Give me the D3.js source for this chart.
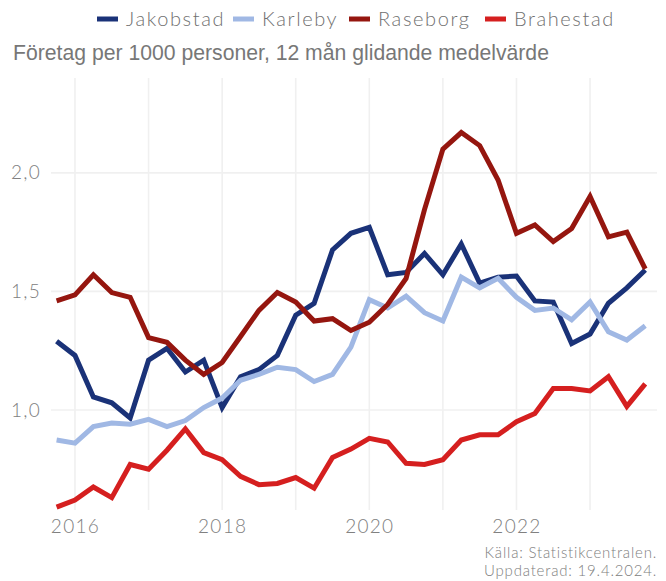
<!DOCTYPE html>
<html>
<head>
<meta charset="utf-8">
<script src="https://cdn.jsdelivr.net/npm/d3@7"></script>
<style>
  body { margin: 0; background: #fff; }
</style>
</head>
<body>
<div id="chart"></div>
<script>
// quarters, 2015 Q4 .. 2023 Q4 (decimal year)
var quarters = [2015.75, 2016, 2016.25, 2016.5, 2016.75, 2017, 2017.25, 2017.5, 2017.75,
    2018, 2018.25, 2018.5, 2018.75, 2019, 2019.25, 2019.5, 2019.75,
    2020, 2020.25, 2020.5, 2020.75, 2021, 2021.25, 2021.5, 2021.75,
    2022, 2022.25, 2022.5, 2022.75, 2023, 2023.25, 2023.5, 2023.75];

var jakobstad = [1.29, 1.23, 1.055, 1.03, 0.966, 1.21, 1.26, 1.16, 1.21, 1.01, 1.14, 1.17, 1.23,
    1.40, 1.45, 1.675, 1.745, 1.77, 1.57, 1.58, 1.66, 1.57, 1.70, 1.535, 1.56, 1.565,
    1.46, 1.455, 1.28, 1.32, 1.45, 1.515, 1.59];
var karleby = [0.873, 0.86, 0.93, 0.945, 0.94, 0.96, 0.93, 0.955, 1.01, 1.05, 1.125, 1.15, 1.18,
    1.17, 1.12, 1.15, 1.265, 1.465, 1.43, 1.48, 1.41, 1.375, 1.56, 1.515, 1.555, 1.475,
    1.42, 1.43, 1.38, 1.455, 1.33, 1.295, 1.355];
var raseborg = [1.46, 1.485, 1.57, 1.495, 1.475, 1.305, 1.285, 1.21, 1.15, 1.20, 1.31, 1.42, 1.495,
    1.455, 1.375, 1.385, 1.335, 1.37, 1.445, 1.555, 1.845, 2.10, 2.17, 2.115, 1.97, 1.745,
    1.78, 1.71, 1.765, 1.90, 1.73, 1.75, 1.595];
var brahestad = [0.59, 0.62, 0.675, 0.63, 0.77, 0.75, 0.83, 0.92, 0.82, 0.79, 0.72, 0.685, 0.69,
    0.715, 0.67, 0.80, 0.835, 0.88, 0.865, 0.775, 0.77, 0.79, 0.873, 0.895, 0.895, 0.95,
    0.985, 1.09, 1.09, 1.08, 1.14, 1.015, 1.11];

var seriesNames = ["Jakobstad", "Karleby", "Raseborg", "Brahestad"];
var seriesColors = ["#1a3278", "#a0b8e4", "#95160f", "#d51f1f"];
var xTicks = [2016, 2018, 2020, 2022];
var yTicks = [1.0, 1.5, 2.0];

var width = 666, height = 581;
var plot = {left: 51, right: 657, top: 78, bottom: 510};

var svg = d3.select("#chart")
    .append("svg")
    .attr("width", width)
    .attr("height", height);

var x = d3.scaleLinear()
    .domain([2015.674, 2023.91])
    .range([plot.left, plot.right]);

var y = d3.scaleLinear()
    .domain([0.578, 2.40])
    .range([plot.bottom, plot.top]);

// grid, one line per year and per 0.5
var gridX = d3.range(2016, 2024);
svg.append("g")
    .selectAll("line")
    .data(gridX)
    .enter().append("line")
    .attr("x1", function (d) { return x(d); })
    .attr("x2", function (d) { return x(d); })
    .attr("y1", plot.top)
    .attr("y2", plot.bottom)
    .style("stroke", "#f0f0f0")
    .style("stroke-width", 1.6);

svg.append("g")
    .selectAll("line")
    .data(yTicks)
    .enter().append("line")
    .attr("x1", plot.left)
    .attr("x2", plot.right)
    .attr("y1", function (d) { return y(d); })
    .attr("y2", function (d) { return y(d); })
    .style("stroke", "#f0f0f0")
    .style("stroke-width", 1.6);

// axes (labels only)
var xAxis = svg.append("g")
    .attr("transform", "translate(0," + plot.bottom + ")")
    .call(d3.axisBottom(x).tickValues(xTicks).tickSize(0).tickPadding(10)
        .tickFormat(d3.format("d")));
xAxis.select(".domain").remove();
xAxis.selectAll("text")
    .style("font-family", "Lato")
    .style("font-weight", 300)
    .style("letter-spacing", "1.3px")
    .style("font-size", "19px")
    .style("fill", "#808080");

var yAxis = svg.append("g")
    .attr("transform", "translate(" + (plot.left - 10) + ",0)")
    .call(d3.axisLeft(y).tickValues(yTicks).tickSize(0).tickPadding(0)
        .tickFormat(function (d) { return d3.format(".1f")(d).replace(".", ","); }));
yAxis.select(".domain").remove();
yAxis.selectAll("text")
    .style("font-family", "Lato")
    .style("font-weight", 300)
    .style("letter-spacing", "1.3px")
    .style("font-size", "19px")
    .style("fill", "#808080");

// lines
var allSeries = [jakobstad, karleby, raseborg, brahestad];
var line = d3.line()
    .x(function (d, i) { return x(quarters[i]); })
    .y(function (d) { return y(d); });

svg.append("g")
    .selectAll("path")
    .data(allSeries)
    .enter().append("path")
    .attr("d", line)
    .style("fill", "none")
    .style("stroke", function (d, i) { return seriesColors[i]; })
    .style("stroke-width", 5)
    .style("stroke-linejoin", "miter")
    .style("stroke-linecap", "butt");

// legend
var legendX = [97, 233, 349, 485];
var legend = svg.append("g")
    .selectAll("g")
    .data(seriesNames)
    .enter().append("g")
    .attr("transform", function (d, i) { return "translate(" + legendX[i] + ",19)"; });
legend.append("line")
    .attr("x1", 0)
    .attr("x2", 21)
    .style("stroke", function (d, i) { return seriesColors[i]; })
    .style("stroke-width", 5);
legend.append("text")
    .attr("x", 29)
    .attr("y", 7)
    .text(function (d) { return d; })
    .style("font-family", "Lato")
    .style("font-weight", 300)
    .style("letter-spacing", "1.6px")
    .style("font-size", "20px")
    .style("fill", "#707070");

// subtitle
svg.append("text")
    .attr("x", 13)
    .attr("y", 60)
    .text("Företag per 1000 personer, 12 mån glidande medelvärde")
    .style("font-family", "Liberation Sans")
    .style("font-size", "21.2px")
    .style("fill", "#777");

// source
svg.append("text")
    .attr("x", 657)
    .attr("y", 558)
    .attr("text-anchor", "end")
    .text("Källa: Statistikcentralen.")
    .style("font-family", "Lato")
    .style("font-weight", 300)
    .style("letter-spacing", "0.8px")
    .style("font-size", "15px")
    .style("fill", "#808080");
svg.append("text")
    .attr("x", 657)
    .attr("y", 576)
    .attr("text-anchor", "end")
    .text("Uppdaterad: 19.4.2024.")
    .style("font-family", "Lato")
    .style("font-weight", 300)
    .style("letter-spacing", "0.8px")
    .style("font-size", "15px")
    .style("fill", "#808080");
</script>
</body>
</html>
